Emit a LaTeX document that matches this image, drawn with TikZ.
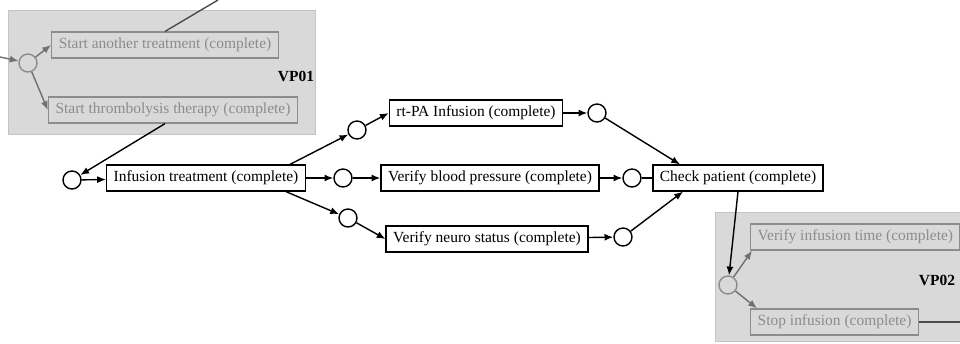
\documentclass[tikz,border=0pt]{standalone}
\usepackage{fontspec}
\setmainfont{Liberation Serif}
\usepackage{xcolor}
\usetikzlibrary{arrows.meta,positioning,backgrounds}
\definecolor{vpfill}{HTML}{D9D9D9}
\definecolor{vpedge}{HTML}{C4C4C4}
\definecolor{ghost}{HTML}{8C8C8C}

\tikzset{
    task/.style={draw, thick, fill=white, inner xsep=4pt, minimum height=0.44cm, font=\fontsize{8.8}{10}\selectfont},
    ghosttask/.style={draw=ghost, thick, inner xsep=4pt, minimum height=0.44cm, text=ghost, font=\fontsize{8.8}{10}\selectfont},
    place/.style={circle, draw, thick, fill=white, minimum size=0.36cm, inner sep=0pt},
    ghostplace/.style={circle, draw=ghost, thick, minimum size=0.36cm, inner sep=0pt},
    vpbox/.style={fill=vpfill, draw=vpedge},
    vplabel/.style={font=\fontsize{8.8}{10}\selectfont\bfseries},
    flow/.style={-{Latex[length=5pt,width=4pt]}, thick},
    ghostflow/.style={-{Latex[length=5pt,width=4pt]}, thick, draw=ghost!80!black, fill=ghost!80!black}
}

\begin{document}
\begin{tikzpicture}[x=0.02cm, y=-0.02cm]
    \useasboundingbox (0,0) rectangle (960,343);

    % Virtual parts (grey)
    \fill[vpbox] (8,10) rectangle (315,134);
    \fill[vpbox] (715,212) rectangle (962,341);

    % VP01
    \node[ghostplace] (vp1c) at (28,63) {};
    \node[ghosttask] (another) at (165,45) {Start another treatment (complete)};
    \node[ghosttask] (thromb) at (173,110) {Start thrombolysis therapy (complete)};
    \node[vplabel] (vp1) at (296,76) {VP01};
    \coordinate (leftin) at (0,57);
    \coordinate (topin) at (218,0);

    % Main flow
    \node[place] (c0) at (72,180) {};
    \node[task] (infusion) at (206,178) {Infusion treatment (complete)};
    \node[place] (pu) at (357,130) {};
    \node[place] (pm) at (343,178) {};
    \node[place] (pl) at (348,218) {};
    \node[task] (rtpa) at (476,113) {rt-PA Infusion (complete)};
    \node[task] (bp) at (490,178) {Verify blood pressure (complete)};
    \node[task] (neuro) at (487,239) {Verify neuro status (complete)};
    \node[place] (qu) at (597,113) {};
    \node[place] (qm) at (632,178) {};
    \node[place] (ql) at (623,237) {};
    \node[task] (check) at (738,178) {Check patient (complete)};

    % VP02
    \node[ghostplace] (vp2c) at (728,285) {};
    \node[ghosttask, anchor=west] (inftime) at (750,237) {Verify infusion time (complete)};
    \node[ghosttask, anchor=west] (stop) at (750,322) {Stop infusion (complete)};
    \node[vplabel] (vp2) at (937,280) {VP02};
    \coordinate (rightout) at (962,322);

    % Connectors in VP01
    \draw[thick, black!70] (topin) -- (another.north);
    \draw[ghostflow] (leftin) -- (vp1c);
    \draw[ghostflow] (vp1c) -- (another.west);
    \draw[ghostflow] (vp1c) -- (thromb.west);
    \draw[flow] (thromb.south) ++(-8,0) -- (c0);

    % Connectors in main flow
    \draw[flow] (c0) -- (infusion);
    \draw[flow] (infusion.north east) ++(-16,0) -- (pu);
    \draw[flow] (infusion) -- (pm);
    \draw[flow] (infusion.south east) ++(-20,0) -- (pl);
    \draw[flow] (pu) -- (rtpa.west);
    \draw[flow] (pm) -- (bp);
    \draw[flow] (pl) -- (neuro.west);
    \draw[flow] (rtpa) -- (qu);
    \draw[flow] (bp) -- (qm);
    \draw[flow] (neuro) -- (ql);
    \draw[flow] (qu) -- ([xshift=-1.16cm]check.north);
    \draw[thick] (qm) -- (check);
    \draw[flow] (ql) -- ([xshift=-1.1cm]check.south);

    % Connectors to VP02
    \draw[flow] (check.south) -- (vp2c);
    \draw[ghostflow] (vp2c) -- ([xshift=0.04cm]inftime.south west);
    \draw[ghostflow] (vp2c) -- ([xshift=0.14cm]stop.north west);
    \draw[thick, black!70] (stop) -- (rightout);
\end{tikzpicture}
\end{document}
